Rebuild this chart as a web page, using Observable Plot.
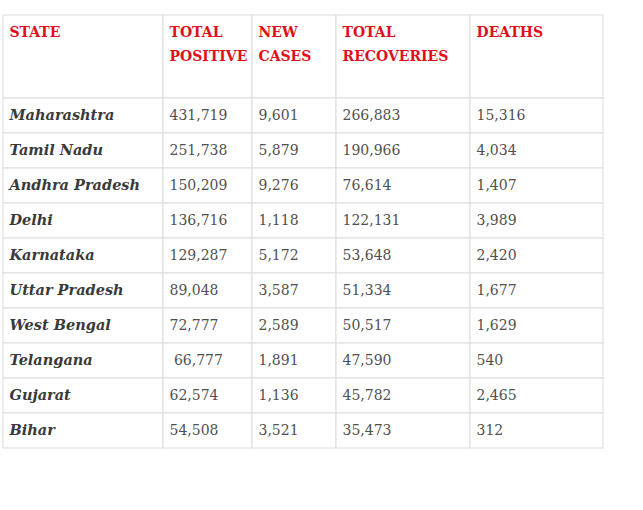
<!DOCTYPE html>
<html>
<head>
<meta charset="utf-8">
<script src="https://cdn.jsdelivr.net/npm/d3@7"></script>
<script src="https://cdn.jsdelivr.net/npm/@observablehq/plot@0.6"></script>
<style>
  html, body { margin: 0; padding: 0; background: #fff; }
  svg text { white-space: pre; }
</style>
</head>
<body>
<div id="chart"></div>
<script>
// ---- data ----
const headers = ["STATE", "TOTAL\nPOSITIVE", "NEW\nCASES", "TOTAL\nRECOVERIES", "DEATHS"];
const states = ["Maharashtra", "Tamil Nadu", "Andhra Pradesh", "Delhi", "Karnataka",
  "Uttar Pradesh", "West Bengal", "Telangana", "Gujarat", "Bihar"];
const totalPositive = ["431,719", "251,738", "150,209", "136,716", "129,287",
  "89,048", "72,777", " 66,777", "62,574", "54,508"];
const newCases = ["9,601", "5,879", "9,276", "1,118", "5,172",
  "3,587", "2,589", "1,891", "1,136", "3,521"];
const totalRecoveries = ["266,883", "190,966", "76,614", "122,131", "53,648",
  "51,334", "50,517", "47,590", "45,782", "35,473"];
const deaths = ["15,316", "4,034", "1,407", "3,989", "2,420",
  "1,677", "1,629", "540", "2,465", "312"];

// ---- layout ----
const W = 643, H = 510;
const tableLeft = 3, tableTop = 15, headerH = 83, rowH = 35;
const colWidths = [160, 89, 84, 134, 133];
const colEdges = [tableLeft];
colWidths.forEach(w => colEdges.push(colEdges[colEdges.length - 1] + w));
const bodyTop = tableTop + headerH;
const rowScale = d3.scaleBand().domain(states).range([bodyTop, bodyTop + rowH * states.length]);
const pad = 6;
const font = "'DejaVu Serif', serif";

const columns = [states, totalPositive, newCases, totalRecoveries, deaths];

const headerCells = headers.map((h, i) => ({label: h, x1: colEdges[i], x2: colEdges[i + 1], y1: tableTop, y2: bodyTop}));
const bodyCells = [];
states.forEach((s, r) => {
  columns.forEach((col, c) => {
    bodyCells.push({label: col[r], col: c, x1: colEdges[c], x2: colEdges[c + 1],
      y1: rowScale(s), y2: rowScale(s) + rowScale.bandwidth()});
  });
});

const chart = Plot.plot({
  width: W,
  height: H,
  margin: 0,
  x: {type: "identity"},
  y: {type: "identity"},
  style: {fontFamily: font, background: "#fff"},
  marks: [
    Plot.rect(headerCells, {x1: "x1", x2: "x2", y1: "y1", y2: "y2", fill: "#fff", stroke: "#dcdcdc", strokeWidth: 1}),
    Plot.rect(bodyCells, {x1: "x1", x2: "x2", y1: "y1", y2: "y2", fill: "#fff", stroke: "#dcdcdc", strokeWidth: 1}),
    Plot.text(headerCells, {
      x: d => d.x1 + pad, y: d => d.y1 + 5, text: "label",
      textAnchor: "start", lineAnchor: "top", lineHeight: 1.7,
      fill: "#e0101a", fontWeight: "bold", fontSize: 14
    }),
    Plot.text(bodyCells.filter(d => d.col === 0), {
      x: d => d.x1 + pad, y: d => (d.y1 + d.y2) / 2 - 0.5, text: "label",
      textAnchor: "start", lineAnchor: "middle",
      fill: "#3a3a3a", fontWeight: "bold", fontStyle: "italic", fontSize: 14.5
    }),
    Plot.text(bodyCells.filter(d => d.col > 0), {
      x: d => d.x1 + pad, y: d => (d.y1 + d.y2) / 2 - 0.5, text: "label",
      textAnchor: "start", lineAnchor: "middle",
      fill: "#505050", fontSize: 14
    })
  ]
});
document.getElementById("chart").appendChild(chart);
</script>
</body>
</html>
